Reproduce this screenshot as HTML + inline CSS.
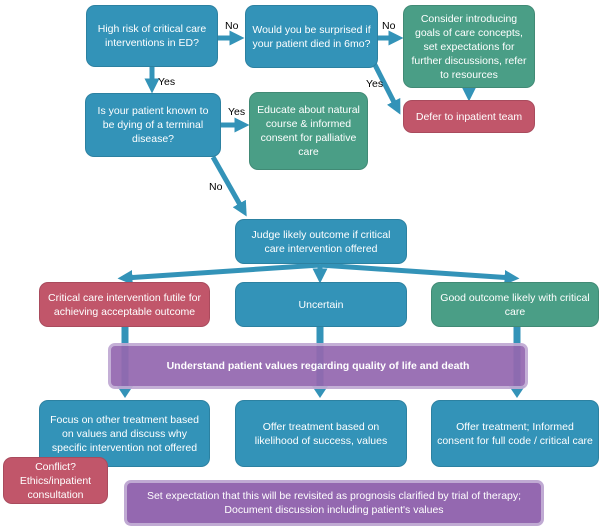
<!DOCTYPE html>
<html><head><meta charset="utf-8"><style>
body{margin:0;width:606px;height:530px;background:#fff;position:relative;overflow:hidden;font-family:"Liberation Sans",sans-serif}
.b{position:absolute;box-sizing:border-box;border-radius:9px;color:#fff;font-size:10.5px;line-height:14px;display:flex;align-items:center;justify-content:center;text-align:center;padding:0 5px;border:1.5px solid rgba(0,0,0,0.12)}
.bl{background:#3393b8}.gr{background:#4a9e86}.rd{background:#c1566a}
.pu{background:#9468b0;border:3px solid #c0aad3;border-radius:7px}
.l{position:absolute;font-size:10.5px;color:#000}
svg{position:absolute;left:0;top:0}
</style></head><body>
<svg width="606" height="530">
<defs><marker id="a" markerWidth="3" markerHeight="3" refX="1.5" refY="1.5" orient="auto"><path d="M0,0L3,1.5L0,3z" fill="#3393b8"/></marker></defs>
<g stroke="#3393b8" stroke-width="5" fill="none" marker-end="url(#a)">
<line x1="218" y1="38" x2="237" y2="38"/>
<line x1="378" y1="38" x2="396" y2="38"/>
<line x1="152" y1="67" x2="152" y2="86"/>
<line x1="220" y1="125" x2="242" y2="125"/>
<line x1="469" y1="88" x2="469" y2="94"/>
<line x1="374" y1="63" x2="397" y2="108"/>
<line x1="213" y1="157" x2="243" y2="210"/>
<line x1="320" y1="265" x2="125" y2="278"/>
<line x1="320" y1="265" x2="320" y2="276"/>
<line x1="320" y1="265" x2="512" y2="278"/>
</g>
</svg>
<div class="b bl" style="left:86px;top:5px;width:132px;height:62px">High risk of critical care interventions in ED?</div>
<div class="b bl" style="left:245px;top:5px;width:133px;height:63px">Would you be surprised if your patient died in 6mo?</div>
<div class="b gr" style="left:403px;top:5px;width:132px;height:83px">Consider introducing goals of care concepts, set expectations for further discussions, refer to resources</div>
<div class="b rd" style="left:403px;top:100px;width:132px;height:33px">Defer to inpatient team</div>
<div class="b bl" style="left:85px;top:93px;width:136px;height:64px">Is your patient known to be dying of a terminal disease?</div>
<div class="b gr" style="left:249px;top:92px;width:119px;height:78px">Educate about natural course &amp; informed consent for palliative care</div>
<div class="b bl" style="left:235px;top:219px;width:172px;height:45px">Judge likely outcome if critical care intervention offered</div>
<div class="l" style="left:225px;top:20px">No</div>
<div class="l" style="left:382px;top:20px">No</div>
<div class="l" style="left:158px;top:76px">Yes</div>
<div class="l" style="left:228px;top:106px">Yes</div>
<div class="l" style="left:366px;top:78px">Yes</div>
<div class="l" style="left:209px;top:181px">No</div>
<div class="b rd" style="left:39px;top:282px;width:171px;height:45px">Critical care intervention futile for achieving acceptable outcome</div>
<div class="b bl" style="left:235px;top:282px;width:172px;height:45px">Uncertain</div>
<div class="b gr" style="left:431px;top:282px;width:168px;height:45px">Good outcome likely with critical care</div>
<svg width="606" height="530" style="z-index:2">
<g stroke="#3393b8" stroke-width="7" fill="none">
<line x1="125" y1="327" x2="125" y2="388"/><line x1="320" y1="327" x2="320" y2="388"/><line x1="517" y1="327" x2="517" y2="388"/>
</g>
<g fill="#3393b8"><path d="M117,386h16l-8,12z"/><path d="M312,386h16l-8,12z"/><path d="M509,386h16l-8,12z"/></g>
</svg>
<div class="b pu" style="left:108px;top:343px;width:420px;height:46px;font-weight:bold;opacity:0.93;z-index:3">Understand patient values regarding quality of life and death</div>
<div class="b bl" style="left:39px;top:400px;width:171px;height:67px">Focus on other treatment based on values and discuss why specific intervention not offered</div>
<div class="b bl" style="left:235px;top:400px;width:172px;height:67px">Offer treatment based on likelihood of success, values</div>
<div class="b bl" style="left:431px;top:400px;width:168px;height:67px">Offer treatment; Informed consent for full code / critical care</div>
<div class="b rd" style="left:3px;top:457px;width:105px;height:47px">Conflict? Ethics/inpatient consultation</div>
<div class="b pu" style="left:124px;top:480px;width:420px;height:46px">Set expectation that this will be revisited as prognosis clarified by trial of therapy; Document discussion including patient's values</div>
</body></html>
